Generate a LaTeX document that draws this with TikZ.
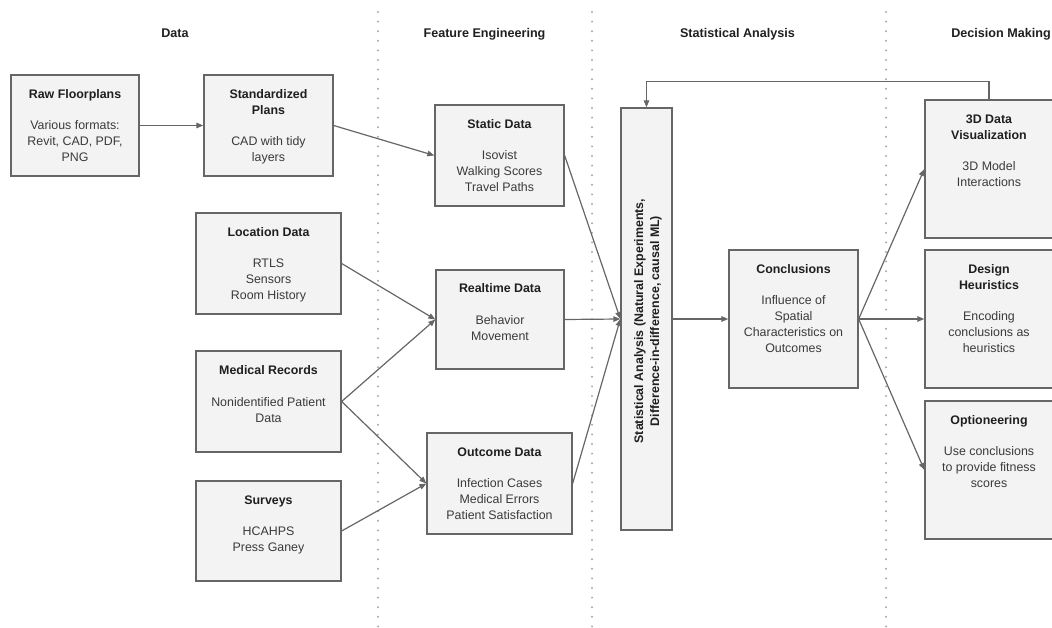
\documentclass[tikz,border=0pt]{standalone}
\usepackage{fontspec}
\setmainfont{Liberation Sans}
\usetikzlibrary{arrows.meta,calc}
\definecolor{boxfill}{HTML}{F3F3F3}
\definecolor{boxline}{HTML}{666666}
\definecolor{titlecol}{HTML}{1F1F1F}
\definecolor{bodycol}{HTML}{3A3A3A}
\definecolor{dotcol}{HTML}{A8A8A8}
\tikzset{
  box/.style={draw=boxline, fill=boxfill, line width=1.3pt, inner sep=0pt, rectangle},
  boxtext/.style={anchor=north, align=center, inner sep=0pt, text=bodycol,
    font=\fontsize{12.4}{16}\selectfont},
  header/.style={anchor=base, inner sep=0pt, text=titlecol,
    font=\fontsize{12.6}{16}\selectfont\bfseries},
  conn/.style={draw=boxline, line width=1.2pt, -{Triangle[length=7pt,width=5.5pt]}},
  sep/.style={draw=dotcol, line width=2.2pt, line cap=round, dash pattern=on 0pt off 9.6pt},
}
\newcommand{\ttl}[1]{\rule{0pt}{12pt}{\bfseries\color{titlecol}#1}}
\begin{document}
\begin{tikzpicture}[x=1pt,y=-1pt]
\useasboundingbox (0,0) rectangle (1052,628);
% separators
\coordinate (s1t) at (378,12); \coordinate (s1b) at (378,628);
\coordinate (s2t) at (592,12); \coordinate (s2b) at (592,628);
\coordinate (s3t) at (886,12); \coordinate (s3b) at (886,628);
\draw[sep] (s1t) -- (s1b);
\draw[sep] (s2t) -- (s2b);
\draw[sep] (s3t) -- (s3b);
% headers
\node[header] (h1) at (175,37.5) {Data};
\node[header] (h2) at (484.5,37.5) {Feature Engineering};
\node[header] (h3) at (737.5,37.5) {Statistical Analysis};
\node[header] (h4) at (1001,37.5) {Decision Making};
% boxes
\node[box, minimum width=128pt, minimum height=101pt] (raw) at (75,125.5) {};
\node[box, minimum width=129pt, minimum height=101pt] (std) at (268.5,125.5) {};
\node[box, minimum width=145pt, minimum height=101pt] (loc) at (268.5,263.5) {};
\node[box, minimum width=145pt, minimum height=101pt] (med) at (268.5,401.5) {};
\node[box, minimum width=145pt, minimum height=100pt] (srv) at (268.5,531) {};
\node[box, minimum width=129pt, minimum height=101pt] (sdat) at (499.5,155.5) {};
\node[box, minimum width=128pt, minimum height=99pt] (rt) at (500,319.5) {};
\node[box, minimum width=145pt, minimum height=101pt] (out) at (499.5,483.5) {};
\node[box, minimum width=51pt, minimum height=422pt] (sa) at (646.5,319) {};
\node[box, minimum width=129pt, minimum height=138pt] (con) at (793.5,319) {};
\node[box, minimum width=128pt, minimum height=138pt] (viz) at (989,169) {};
\node[box, minimum width=128pt, minimum height=138pt] (heu) at (989,319) {};
\node[box, minimum width=128pt, minimum height=138pt] (opt) at (989,470) {};
% texts
\node[boxtext] (traw) at ($(raw.north)+(0,11.5)$) {\ttl{Raw Floorplans}\\[15.5pt]Various formats:\\Revit, CAD, PDF,\\PNG};
\node[boxtext] (tstd) at ($(std.north)+(0,11.5)$) {\ttl{Standardized}\\\ttl{Plans}\\[15.5pt]CAD with tidy\\layers};
\node[boxtext] (tloc) at ($(loc.north)+(0,11.5)$) {\ttl{Location Data}\\[15.5pt]RTLS\\Sensors\\Room History};
\node[boxtext] (tmed) at ($(med.north)+(0,12)$) {\ttl{Medical Records}\\[15.5pt]Nonidentified Patient\\Data};
\node[boxtext] (tsrv) at ($(srv.north)+(0,11.5)$) {\ttl{Surveys}\\[15.5pt]HCAHPS\\Press Ganey};
\node[boxtext] (tsdat) at ($(sdat.north)+(0,11.5)$) {\ttl{Static Data}\\[15.5pt]Isovist\\Walking Scores\\Travel Paths};
\node[boxtext] (trt) at ($(rt.north)+(0,11)$) {\ttl{Realtime Data}\\[15.5pt]Behavior\\Movement};
\node[boxtext] (tout) at ($(out.north)+(0,11.5)$) {\ttl{Outcome Data}\\[15.5pt]Infection Cases\\Medical Errors\\Patient Satisfaction};
\node[boxtext, anchor=center, rotate=90, font=\fontsize{12.4}{16}\selectfont\bfseries, text=titlecol] (tsa) at (648,321) {Statistical Analysis (Natural Experiments,\\Difference-in-difference, causal ML)};
\node[boxtext] (tcon) at ($(con.north)+(0,11.5)$) {\ttl{Conclusions}\\[15.5pt]Influence of\\Spatial\\Characteristics on\\Outcomes};
\node[boxtext] (tviz) at ($(viz.north)+(0,11.5)$) {\ttl{3D Data}\\\ttl{Visualization}\\[15.5pt]3D Model\\Interactions};
\node[boxtext] (theu) at ($(heu.north)+(0,11.5)$) {\ttl{Design}\\\ttl{Heuristics}\\[15.5pt]Encoding\\conclusions as\\heuristics};
\node[boxtext] (topt) at ($(opt.north)+(0,11.5)$) {\ttl{Optioneering}\\[15.5pt]Use conclusions\\to provide fitness\\scores};
% connectors
\draw[conn] (raw.east) -- (std.west);
\draw[conn] (std.east) -- (sdat.west);
\draw[conn] (loc.east) -- (rt.west);
\draw[conn] (med.east) -- (rt.west);
\draw[conn] (med.east) -- (out.west);
\draw[conn] (srv.east) -- (out.west);
\draw[conn] (sdat.east) -- (sa.west);
\draw[conn] (rt.east) -- (sa.west);
\draw[conn] (out.east) -- (sa.west);
\draw[conn] (sa.east) -- (con.west);
\draw[conn] (con.east) -- (viz.west);
\draw[conn] (con.east) -- (heu.west);
\draw[conn] (con.east) -- (opt.west);
\draw[conn] (viz.north) -- ++(0,-18) -| (sa.north);
\end{tikzpicture}
\end{document}
